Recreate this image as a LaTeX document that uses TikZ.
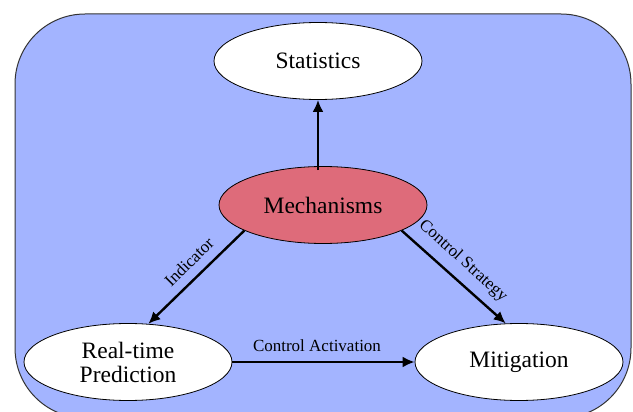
\documentclass[tikz,border=0pt]{standalone}
\usepackage{fontspec}
\setmainfont{Liberation Serif}
\usetikzlibrary{shapes.geometric,arrows.meta}
\definecolor{bgblue}{HTML}{A3B4FF}
\definecolor{mechred}{HTML}{DE6B7A}
\tikzset{
  oval/.style={ellipse, draw=black, line width=0.8pt, fill=white, minimum width=208pt, minimum height=77pt, inner sep=0pt, font=\fontsize{23.5}{25}\selectfont, align=center},
  conn/.style={line width=2.4pt, -{Latex[length=12pt,width=11pt]}},
  lbl/.style={font=\fontsize{17}{19}\selectfont, inner sep=0pt}
}
\begin{document}
\begin{tikzpicture}[x=1pt,y=-1pt]
\useasboundingbox (0,0) rectangle (633,412);
\begin{scope}
\clip (0,0) rectangle (633,412);
\draw[fill=bgblue, draw=black!80, line width=1pt, rounded corners=70pt] (15,14) rectangle (631,418);
\end{scope}
\node[oval] (stat) at (318,61) {Statistics};
\node[oval, fill=mechred] (mech) at (323,205) {Mechanisms};
\node[oval] (rtp) at (128,362) {Real-time\\[-1pt]Prediction};
\node[oval] (mit) at (519,362) {Mitigation};
\draw[conn] ([yshift=-4pt]stat.south |- mech.north) -- (stat.south);
\draw[conn] (mech.198) -- (rtp.62);
\draw[conn] (mech.342) -- (mit.109);
\draw[conn] (rtp.east) -- (mit.west);
\node[lbl, rotate=45] (lind) at (189,262) {Indicator};
\node[lbl, rotate=-42] (lcs) at (463,261) {Control Strategy};
\node[lbl] (lca) at (317,346) {Control Activation};
\end{tikzpicture}
\end{document}
